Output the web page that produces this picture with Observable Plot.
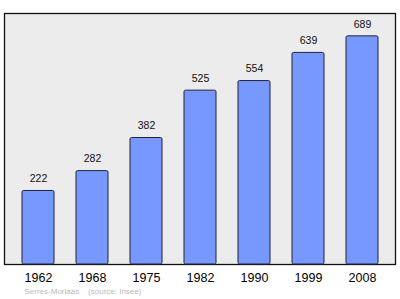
<!DOCTYPE html>
<html><head><meta charset="utf-8">
<script src="https://cdn.jsdelivr.net/npm/d3@7"></script>
<script src="https://cdn.jsdelivr.net/npm/@observablehq/plot@0.6"></script>
<style>body{margin:0;background:#fff;} svg{display:block;}</style>
</head><body><div id="chart"></div>
<script>
const years = ["1962","1968","1975","1982","1990","1999","2008"];
const population = [222,282,382,525,554,639,689];
const caption = "Serres-Morlaàs    (source: Insee)";
const data = years.map((y,i)=>({year:y, pop:population[i]}));

const chart = Plot.plot({
  width: 400, height: 299,
  marginTop: 13, marginBottom: 35, marginLeft: 4, marginRight: 5,
  style: {fontFamily: "'Liberation Sans', Arial, sans-serif", background: "#fff"},
  x: {domain: years, padding: 0.415, paddingOuter: 0.28, align: 0.5, label: null},
  y: {domain: [0, 758], axis: null},
  marks: [
    Plot.frame({fill: "#ececec", stroke: "#111", strokeWidth: 1.3}),
    Plot.barY(data, {x: "year", y: "pop", fill: "#7799ff", stroke: "#223", strokeWidth: 1, rx: 1.5}),
    Plot.text(data, {x: "year", y: "pop", text: d => String(d.pop), dy: -12, fontSize: 10.5, fill: "#111"}),
    Plot.axisX({tickSize: 0, tickPadding: 9, fontSize: 12.5, fill: "#000", label: null}),
    Plot.text([caption], {frameAnchor: "bottom-left", dx: 20, dy: 29, text: d => d, fontSize: 8, fill: "#bbb", textAnchor: "start"})
  ]
});
document.getElementById("chart").appendChild(chart);
</script></body></html>
